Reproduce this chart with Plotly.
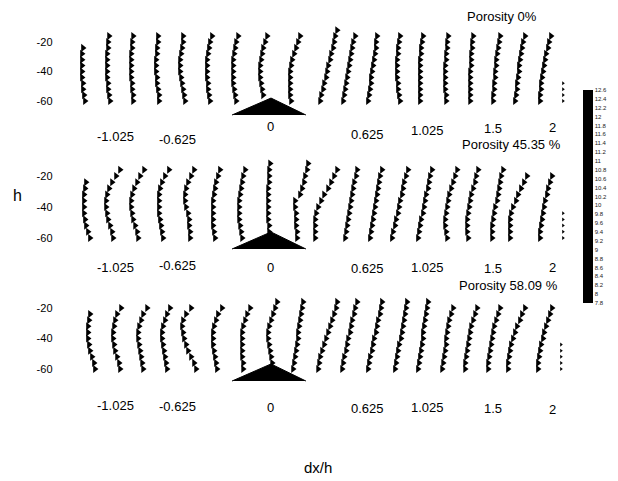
import plotly.graph_objects as go

# ---------------- data ----------------
# measurement heights (h)
LEVELS = [-60, -56, -52, -48, -44, -40, -36, -32, -28, -24, -20, -16, -12]

# profile stations (dx/h)
STATIONS = [-1.227, -1.06, -0.893, -0.727, -0.56, -0.387, -0.213, -0.033, 0.16, 0.347,
            0.507, 0.673, 0.853, 1.013, 1.187, 1.347, 1.507, 1.653, 1.813, 1.967]

# deflection of each vector from its station, bottom -> top (units of 1/150 dx/h)
P0 = [
    [1, 0, -1, -1, -2, -2, -2, -2, -2, -1],
    [1, 0, -1, -1, -2, -2, -2, -2, -2, -1, -1, 0],
    [-1, -1, -2, -2, -3, -3, -3, -3, -3, -2, -2, -1],
    [0, 0, -1, -2, -2, -3, -3, -3, -2, -2, -1, -1],
    [1, 0, -1, -2, -3, -4, -4, -4, -3, -2, -1, -1],
    [0, -1, -2, -2, -3, -3, -3, -3, -2, -1, 0, 2],
    [0, -1, -2, -3, -3, -3, -3, -3, -2, -1, 0, 2],
    [None, 0, -1, -2, -3, -3, -3, -2, -1, 0, 2, 4],
    [-1, -2, -2, -2, -2, -2, -1, 0, 2, 4, 6, 8],
    [0, 1, 3, 4, 6, 7, 8, 10, 11, 13, 14, 15, 17],
    [-1, 0, 1, 2, 3, 4, 5, 6, 7, 8, 9, 11],
    [-1, 0, 1, 2, 2, 3, 4, 5, 6, 7, 7, 8],
    [4, 3, 2, 2, 1, 1, 1, 1, 2, 2, 3, 4],
    [0, 0, 0, 0, 0, 0, 0, 0, 1, 1, 2, 3],
    [0, 0, -1, -1, -1, -1, -1, 0, 0, 1, 1, 2],
    [0, 0, 0, 0, 0, 0, 1, 1, 1, 2, 2, 3],
    [-1, -1, 0, 0, 1, 1, 2, 2, 3, 4, 5, 6],
    [-1, 0, 1, 1, 2, 3, 3, 4, 5, 6, 7, 9],
    [0, 0, 1, 1, 2, 3, 4, 5, 6, 8, 9, 11],
    [0, 0, 0, 0],
]
P45 = [
    [6, 4, 2, 1, 0, 0, 0, 0, 1, 2],
    [4, 3, 1, -1, -2, -3, -3, -2, 0, 3, 7, 11],
    [4, 3, 1, -1, -2, -3, -3, -2, 0, 3, 6, 10],
    [4, 3, 2, 1, 0, 0, 0, 0, 1, 3, 6, 10],
    [6, 6, 5, 5, 4, 2, 1, 1, 2, 4, 7, 10],
    [5, 4, 3, 3, 3, 3, 3, 4, 5, 6, 8, 10],
    [6, 5, 4, 3, 3, 3, 3, 4, 5, 6, 7, 9],
    [None, 6, 6, 5, 5, 5, 5, 5, 5, 6, 6, 6, 7],
    [5, 5, 4, 4, 4, 3, 3, 8, 10, 12, 13, 15, 16],
    [-5, -5, -5, -5, -4, -2, 1, 4, 8, 11, 14, 17],
    [1, 2, 3, 4, 5, 6, 7, 8, 9, 10, 12, 13],
    [1, 2, 3, 4, 5, 6, 7, 8, 9, 10, 11, 13],
    [-4, -3, -1, 0, 2, 3, 4, 6, 7, 8, 10, 12],
    [-2, -1, 0, 1, 3, 4, 5, 6, 8, 9, 10, 12],
    [1, 0, -1, -1, 0, 1, 2, 3, 5, 7, 9, 11],
    [-2, -3, -3, -3, -2, -1, 0, 1, 3, 5, 6, 8],
    [-2, -2, -2, -1, 0, 1, 3, 4, 5, 6, 7, 9],
    [-6, -6, -6, -6, -5, -3, 0, 2, 5, 8, 11],
    [0, 0, 1, 2, 3, 4, 5, 7, 8, 10, 12],
    [0, 0, 0, 0, 0],
]
P58 = [
    [11, 10, 8, 6, 5, 4, 4, 4, 5, 6],
    [11, 10, 8, 6, 5, 4, 4, 5, 6, 8, 12],
    [9, 8, 7, 6, 5, 4, 4, 5, 7, 9, 13],
    [8, 7, 6, 5, 4, 3, 3, 4, 6, 8, 11],
    [12, 10, 7, 4, 2, 0, -1, -2, -1, 2, 7],
    [7, 6, 5, 4, 3, 3, 3, 4, 6, 8, 12],
    [7, 7, 6, 6, 6, 6, 6, 7, 9, 11, 14],
    [None, 9, 8, 7, 6, 5, 5, 6, 8, 10, 12, 14],
    [1, 2, 3, 4, 5, 6, 6, 7, 8, 9, 10, 11],
    [-2, -1, 0, 2, 4, 6, 8, 10, 12, 14, 16, 17],
    [-2, -1, 0, 2, 3, 4, 6, 7, 8, 10, 11, 13],
    [-1, 0, 1, 3, 4, 5, 7, 8, 9, 11, 12, 13],
    [-1, 0, 1, 2, 3, 5, 6, 7, 8, 9, 10, 11],
    [-2, -1, 0, 1, 2, 3, 3, 4, 5, 6, 7, 8],
    [-4, -3, -2, -1, 0, 0, 1, 2, 3, 5, 7],
    [-5, -5, -4, -3, -2, -1, 0, 1, 3, 5, 7],
    [-6, -6, -5, -4, -3, -2, -1, 0, 2, 4, 6],
    [-8, -8, -7, -6, -5, -3, -1, 1, 4, 6, 9],
    [-2, -2, -1, 0, 1, 3, 4, 6, 8, 10, 12],
    [-2, -2, -2, -2, -2],
]
DEFL_UNIT = 1 / 150.0

PANEL_TITLES = ["Porosity 0%", "Porosity 45.35 %", "Porosity 58.09 %"]
PANEL_DATA = [P0, P45, P58]

# barrier (triangle) outline
BARRIER_X = [-0.24, 0.02, 0.253]
BARRIER_Y = [[-69.5, -58.0, -69.5], [-67.1, -56.1, -67.1], [-67.9, -56.7, -67.9]]

# x labels
X_LABELS = ["-1.025", "-0.625", "0", "0.625", "1.025", "1.5", "2"]
X_LABEL_VALUES = [-1.025, -0.625, 0.0, 0.625, 1.025, 1.5, 2.0]

Y_TICKS = [-20, -40, -60]

CB_TICKS = [12.6, 12.4, 12.2, 12.0, 11.8, 11.6, 11.4, 11.2, 11.0, 10.8, 10.6, 10.4, 10.2,
            10.0, 9.8, 9.6, 9.4, 9.2, 9.0, 8.8, 8.6, 8.4, 8.2, 8.0, 7.8]
CB_TEXT = ["12.6", "12.4", "12.2", "12", "11.8", "11.6", "11.4", "11.2", "11", "10.8",
           "10.6", "10.4", "10.2", "10", "9.8", "9.6", "9.4", "9.2", "9", "8.8", "8.6",
           "8.4", "8.2", "8", "7.8"]

# ---------------- layout / style ----------------
FONT = "Liberation Sans, Arial, sans-serif"
W, H = 618, 481
X_RANGE = [-268 / 150.0, 350 / 150.0]
Y_RANGE = [-72, -8]
Y_DOMAINS = [[0.7532, 0.9495], [0.4665, 0.6728], [0.1948, 0.3977]]
LABEL_NUDGE = [1, 3, 2, 6, 6, 0, -16]
LABEL_ROW_PX = [[137, 139, 126, 134, 130, 129, 127],
                [267, 265, 267, 268, 267, 268, 267],
                [405, 406, 407, 408, 407, 408, 409]]
TITLE_PX = [(502, 17), (511, 144), (508, 285)]

fig = go.Figure()
annotations = []


def text_ann(x, y, text, size, xref="paper", xshift=0):
    return dict(x=x, y=y, xref=xref, yref="paper", text=text, showarrow=False,
                xanchor="center", yanchor="middle", xshift=xshift,
                font=dict(family=FONT, size=size, color="black"))


for p, cols in enumerate(PANEL_DATA):
    sfx = "" if p == 0 else str(p + 1)
    xref, yref = "x" + sfx, "y" + sfx
    xs, ys, sizes = [], [], []
    for c, defl in enumerate(cols):
        small = len([d for d in defl if d is not None]) <= 5
        for k, d in enumerate(defl):
            if d is None:
                continue
            xs.append(STATIONS[c] + d * DEFL_UNIT)
            ys.append(LEVELS[k])
            sizes.append(3.5 if small else 7)
    fig.add_trace(go.Scatter(
        x=xs, y=ys, mode="markers", xaxis=xref, yaxis=yref,
        marker=dict(symbol="triangle-right", size=sizes, color="black",
                    line=dict(width=0), opacity=1),
        showlegend=False, hoverinfo="skip", cliponaxis=False))
    fig.add_trace(go.Scatter(
        x=BARRIER_X, y=BARRIER_Y[p], mode="lines", fill="toself",
        fillcolor="black", line=dict(color="black", width=1),
        xaxis=xref, yaxis=yref, showlegend=False, hoverinfo="skip"))
    for i, lab in enumerate(X_LABELS):
        annotations.append(text_ann(X_LABEL_VALUES[i], 1 - LABEL_ROW_PX[p][i] / H, lab,
                                    13, xref=xref, xshift=LABEL_NUDGE[i]))
    tx, ty = TITLE_PX[p]
    annotations.append(text_ann(tx / W, 1 - ty / H, PANEL_TITLES[p], 13))

# colorbar (magnitude scale)
fig.add_trace(go.Scatter(
    x=[None], y=[None], mode="markers", showlegend=False, hoverinfo="skip",
    marker=dict(color=[10.0], cmin=7.8, cmax=12.6,
                colorscale=[[0, "black"], [1, "black"]], showscale=True,
                colorbar=dict(x=583 / W, xanchor="left", y=1 - 196.5 / H,
                              yanchor="middle", len=213 / H, lenmode="fraction",
                              thickness=10, thicknessmode="pixels",
                              outlinewidth=0, xpad=0, ypad=0, ticks="",
                              tickmode="array", tickvals=CB_TICKS,
                              ticktext=CB_TEXT,
                              tickfont=dict(family=FONT, size=6, color="#222")))))

annotations.append(text_ann(17 / W, 1 - 195 / H, "h", 16))
annotations.append(text_ann(318 / W, 1 - 467 / H, "dx/h", 15))

layout = dict(
    width=W, height=H, margin=dict(l=0, r=0, t=0, b=0),
    paper_bgcolor="white", plot_bgcolor="white",
    font=dict(family=FONT, color="black"),
    annotations=annotations, showlegend=False,
)
for p in range(3):
    sfx = "" if p == 0 else str(p + 1)
    layout["xaxis" + sfx] = dict(domain=[0, 1], range=X_RANGE, visible=False,
                                 anchor="y" + sfx, fixedrange=True)
    layout["yaxis" + sfx] = dict(domain=Y_DOMAINS[p], range=Y_RANGE, anchor="free",
                                 position=0.085, showgrid=False, zeroline=False,
                                 showline=False, ticks="", tickvals=Y_TICKS,
                                 ticktext=[str(v) for v in Y_TICKS],
                                 tickfont=dict(family=FONT, size=11, color="black"),
                                 automargin=False, fixedrange=True)
fig.update_layout(**layout)
fig.write_html("out.html", config={"displayModeBar": False},
               post_script="document.body.style.margin='0';document.body.style.padding='0';")
